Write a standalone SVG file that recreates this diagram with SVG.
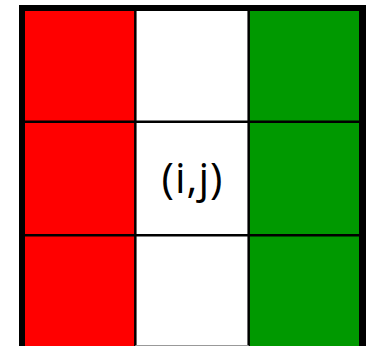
<svg xmlns="http://www.w3.org/2000/svg" width="366" height="346" viewBox="0 0 366 346">
<style>
.grid{stroke:#000;stroke-width:2.5;fill:none}
.cell{stroke:none}
.lbl{font-family:"Open Sans","Noto Sans",sans-serif;font-size:42px;fill:#000;text-anchor:middle;letter-spacing:1px}
</style>
<rect width="366" height="346" fill="#fff"/>
<g id="cells">
<rect id="c00" class="cell" x="22" y="8" width="113.33" height="113.33" fill="#ff0000"/>
<rect id="c10" class="cell" x="22" y="121.33" width="113.33" height="113.33" fill="#ff0000"/>
<rect id="c20" class="cell" x="22" y="234.67" width="113.33" height="113.33" fill="#ff0000"/>
<rect id="c02" class="cell" x="248.67" y="8" width="113.33" height="113.33" fill="#009900"/>
<rect id="c12" class="cell" x="248.67" y="121.33" width="113.33" height="113.33" fill="#009900"/>
<rect id="c22" class="cell" x="248.67" y="234.67" width="113.33" height="113.33" fill="#009900"/>
</g>
<g id="lines" class="grid">
<line x1="135.33" y1="8" x2="135.33" y2="348"/>
<line x1="248.67" y1="8" x2="248.67" y2="348"/>
<line x1="22" y1="121.8" x2="362" y2="121.8"/>
<line x1="22" y1="235.3" x2="362" y2="235.3"/>
<line x1="135.33" y1="345.5" x2="248.67" y2="345.5" stroke="#999" stroke-width="1"/>
</g>
<g id="frame">
<line x1="22" y1="5" x2="22" y2="346" stroke="#000" stroke-width="6"/>
<line x1="362.5" y1="5" x2="362.5" y2="346" stroke="#000" stroke-width="7"/>
<line x1="19" y1="8" x2="366" y2="8" stroke="#000" stroke-width="6"/>
</g>
<g id="center">
<text class="lbl" x="192.5" y="193">(i,j)</text>
</g>
</svg>
